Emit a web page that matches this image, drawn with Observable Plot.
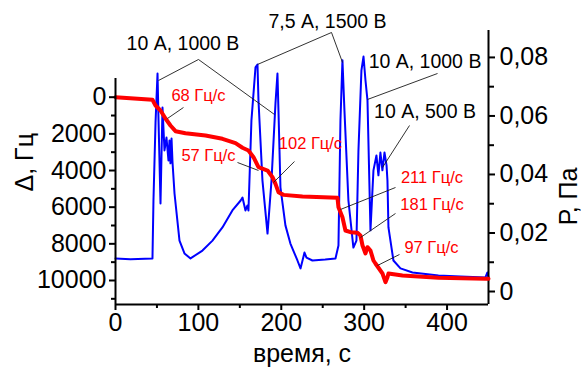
<!DOCTYPE html>
<html><head><meta charset="utf-8">
<script src="https://cdn.jsdelivr.net/npm/d3@7"></script>
<script src="https://cdn.jsdelivr.net/npm/@observablehq/plot@0.6"></script>
<style>
html,body{margin:0;padding:0;background:#fff;}
#chart{position:relative;width:581px;height:367px;overflow:hidden;}
#chart svg{position:absolute;left:0;top:0;background:transparent;overflow:visible;}
</style></head><body><div id="chart"></div>
<script>
// Pressure (blue, right axis, Па) vs time (с)
const blueTime = [0, 18, 44.6, 45.8, 48.3, 50.7, 51.9, 54.3, 56.7, 59.1, 61.5, 63.9, 65.1, 66.3, 67.6, 68.8, 71.2, 77.2, 83.2, 90.5, 104.9, 117, 129, 141, 151, 153.2, 156.8, 159.2, 160.4, 164, 168.9, 171.3, 172.5, 177.3, 183.4, 188.2, 193, 195.4, 196.6, 199, 205, 211, 219.5, 223.2, 228, 230.4, 237.6, 253, 265.4, 269, 271.4, 273.8, 276.2, 281, 287, 290.7, 293.1, 296.7, 299.2, 301.6, 304, 307.6, 311.2, 314.8, 317.2, 319.6, 322, 324.5, 327, 328.1, 329.3, 335.3, 343.8, 358.3, 389.6, 416, 446.3, 448.7, 450];
const pressure = [0.0113, 0.0110, 0.0113, 0.0311, 0.0578, 0.0745, 0.0585, 0.0301, 0.0629, 0.0482, 0.0526, 0.0448, 0.0516, 0.0438, 0.0523, 0.0441, 0.0335, 0.0174, 0.0130, 0.0113, 0.0140, 0.0174, 0.0219, 0.0277, 0.0311, 0.0321, 0.0277, 0.0294, 0.0277, 0.0585, 0.0766, 0.0776, 0.0653, 0.0379, 0.0198, 0.0379, 0.0643, 0.0745, 0.0619, 0.0356, 0.0226, 0.0164, 0.0106, 0.0079, 0.0133, 0.0116, 0.0106, 0.0109, 0.0113, 0.0157, 0.0585, 0.0790, 0.0619, 0.0311, 0.0150, 0.0174, 0.0482, 0.0756, 0.0803, 0.0721, 0.0653, 0.0209, 0.0414, 0.0465, 0.0397, 0.0475, 0.0414, 0.0475, 0.0431, 0.0379, 0.0219, 0.0106, 0.0079, 0.0065, 0.0055, 0.0051, 0.0048, 0.0065, 0.0048];

// Frequency shift Δ (red, left axis, Гц) vs time (с)
const redTime = [0, 44.6, 48.3, 54.3, 60.3, 66.3, 72.4, 84.4, 108.6, 129, 144.8, 153.2, 160.4, 166.5, 172.5, 183.4, 189.4, 193, 196.6, 202.7, 225.6, 267.8, 269, 273.8, 277.4, 283.5, 291.9, 295.5, 298, 301.6, 304, 307.6, 311.2, 313.6, 322.1, 325.7, 328.1, 329.3, 346.2, 389.6, 446.3, 450];
const delta = [0, 142, 453, 725, 1162, 1544, 1855, 1964, 2089, 2270, 2510, 2760, 2908, 3273, 3819, 4000, 4364, 4727, 5183, 5329, 5421, 5490, 6001, 6547, 7272, 7365, 7400, 7545, 8090, 8527, 8183, 8363, 8909, 9073, 9619, 10093, 9820, 9619, 9728, 9853, 9908, 9910];

// Tick labels
const timeTicks = [0, 100, 200, 300, 400];
const timeMinor = [50, 150, 250, 350];
const deltaTicks = [0, 2000, 4000, 6000, 8000, 10000];
const deltaMinor = [1000, 3000, 5000, 7000, 9000, 11000];
const pressureTicks = [0, 0.02, 0.04, 0.06, 0.08];
const pressureMinor = [0.01, 0.03, 0.05, 0.07];

// Annotations (data coordinates: time, Δ)
const blackLabels = ["10 А, 1000 В", "7,5 А, 1500 В", "10 А, 1000 В", "10 А, 500 В"];
const blackLabelT = [81.4, 255.8, 373.4, 373.4];
const blackLabelD = [-2902, -4103, -1948, 780];
const redLabels = ["68 Гц/с", "57 Гц/с", "102 Гц/с", "211 Гц/с", "181 Гц/с", "97 Гц/с"];
const redLabelT = [100.1, 112.2, 235.2, 381.8, 381.8, 381.2];
const redLabelD = [-65, 3181, 2526, 4408, 5854, 8227];
const leaderT1 = [100.1, 100.1, 260.6, 260.6, 388.5, 354.7, 82.0, 147.2, 215.9, 337.8, 337.8, 342.6];
const leaderD1 = [-2057, -2057, -3530, -3530, -1293, 1544, 562, 3563, 3508, 4927, 6345, 8582];
const leaderT2 = [51.9, 191.8, 171.3, 273.9, 304.0, 322.1, 62.7, 172.5, 190.6, 271.4, 295.6, 316.1];
const leaderD2 = [-911, 944, -1784, -1893, 125, 3835, 1162, 3999, 4654, 6127, 7654, 9182];

const W = 581, H = 367, ML = 115, MR = 93, MB = 63;
const font = "Arial, 'Liberation Sans', sans-serif";
const fmtComma = d => d === 0 ? "0" : d.toFixed(2).replace(".", ",");

const right = Plot.plot({
  width: W, height: H, marginLeft: ML, marginRight: MR, marginTop: 30, marginBottom: MB,
  style: {fontFamily: font, fontSize: "25px", color: "black", background: "transparent", overflow: "visible"},
  x: {domain: [0, 450], axis: null},
  y: {domain: [-0.00444, 0.0892], axis: null},
  marks: [
    Plot.line(blueTime, {x: blueTime, y: pressure, stroke: "#0000ff", strokeWidth: 2, strokeLinejoin: "round"}),
    Plot.ruleX([450], {stroke: "black", strokeWidth: 2}),
    Plot.axisY({anchor: "right", ticks: pressureTicks, tickFormat: fmtComma, tickSize: 6, tickPadding: 5, strokeWidth: 2, fontSize: 25}),
    Plot.axisY({anchor: "right", ticks: pressureMinor, tickFormat: () => "", tickSize: 5, strokeWidth: 2}),
    Plot.text(["Р, Па"], {frameAnchor: "right", dx: 80, rotate: -90, fontSize: 25, fill: "black"})
  ]
});

const left = Plot.plot({
  width: W, height: H, marginLeft: ML, marginRight: MR, marginTop: 78, marginBottom: MB,
  style: {fontFamily: font, fontSize: "25px", color: "black", background: "transparent", overflow: "visible"},
  x: {domain: [0, 450], axis: null},
  y: {domain: [-1020, 11310], reverse: true, axis: null},
  marks: [
    Plot.line(redTime, {x: redTime, y: delta, stroke: "#ff0000", strokeWidth: 4, strokeLinejoin: "round"}),
    Plot.link(leaderT1, {x1: leaderT1, y1: leaderD1, x2: leaderT2, y2: leaderD2, stroke: "#1a1a1a", strokeWidth: 0.9}),
    Plot.text(blackLabels, {x: blackLabelT, y: blackLabelD, text: d => d, fontSize: 19.5, fill: "black"}),
    Plot.text(redLabels, {x: redLabelT, y: redLabelD, text: d => d, fontSize: 16.5, fill: "#ff0000"}),
    Plot.ruleX([0], {stroke: "black", strokeWidth: 2}),
    Plot.ruleY([11310], {stroke: "black", strokeWidth: 2}),
    Plot.axisY({anchor: "left", ticks: deltaTicks, tickFormat: d3.format("d"), tickSize: 6, tickPadding: 3, strokeWidth: 2, fontSize: 25}),
    Plot.axisY({anchor: "left", ticks: deltaMinor, tickFormat: () => "", tickSize: 4, strokeWidth: 2}),
    Plot.axisX({anchor: "bottom", ticks: timeTicks, tickFormat: d3.format("d"), tickSize: 6, tickPadding: 3, strokeWidth: 2, fontSize: 25}),
    Plot.axisX({anchor: "bottom", ticks: timeMinor, tickFormat: () => "", tickSize: 4, strokeWidth: 2}),
    Plot.text(["Δ, Гц"], {frameAnchor: "left", dx: -91, rotate: -90, fontSize: 25, fill: "black"}),
    Plot.text(["время, с"], {frameAnchor: "bottom", dy: 57, lineAnchor: "bottom", fontSize: 25, fill: "black"})
  ]
});

const chart = document.getElementById("chart");
chart.appendChild(right);
chart.appendChild(left);
</script>
</body></html>
